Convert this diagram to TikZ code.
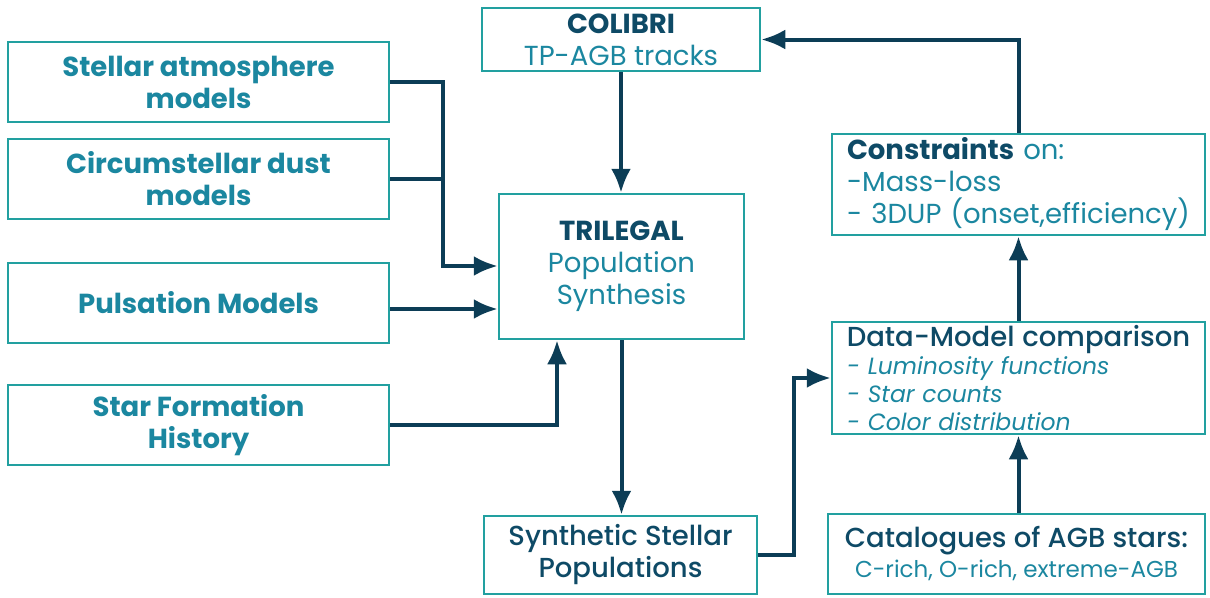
\documentclass[tikz,border=0pt]{standalone}
\usepackage{fontspec}
\setmainfont{Poppins}
\newfontfamily\medfont{Poppins Medium}
\usetikzlibrary{positioning,calc,arrows.meta}
\definecolor{boxteal}{HTML}{22A0A0}
\definecolor{textteal}{HTML}{1B87A0}
\definecolor{navy}{HTML}{0E4A66}
\definecolor{arrowblue}{HTML}{0C3D56}
\tikzset{
  box/.style={draw=boxteal, line width=2.5pt, fill=white, inner sep=0pt, align=center,
    font=\fontsize{27.5}{32}\selectfont},
  inbox/.style={box, minimum width=381pt, minimum height=80pt, text=textteal,
    font=\fontsize{27.5}{32}\selectfont\bfseries},
  listbox/.style={box, align=left, text width=343pt, inner xsep=15pt},
  flow/.style={draw=arrowblue, line width=4pt, -{Latex[length=24pt,width=20pt]}},
  link/.style={draw=arrowblue, line width=4pt},
}
\begin{document}
\begin{tikzpicture}[x=1pt,y=-1pt]
    \useasboundingbox (0,0) rectangle (1210,597);
    % inputs on the left
    \node[inbox] (atm)  at (198.5,82)  {Stellar atmosphere\\models};
    \node[inbox] (dust) at (198.5,179) {Circumstellar dust\\models};
    \node[inbox] (puls) at (198.5,303) {Pulsation Models};
    \node[inbox] (sfh)  at (198.5,425) {Star Formation\\History};
    % centre column
    \node[box, minimum width=278pt, minimum height=63pt] (colibri) at (621,39.5)
        {\textcolor{navy}{\bfseries COLIBRI}\\\textcolor{textteal}{TP-AGB tracks}};
    \node[box, minimum width=245pt, minimum height=145pt] (trilegal) at (621.5,266.5)
        {\textcolor{navy}{\bfseries TRILEGAL}\\\textcolor{textteal}{Population}\\\textcolor{textteal}{Synthesis}};
    \node[box, minimum width=273pt, minimum height=78pt, text=navy, font=\fontsize{27.5}{32}\medfont] (synth) at (620.5,555)
        {Synthetic Stellar\\Populations};
    % right column
    \node[listbox, minimum height=101pt, text=textteal] (constr) at (1018.5,184.5)
        {\textcolor{navy}{\bfseries Constraints} on:\\-Mass-loss\\- 3DUP (onset,efficiency)};
    \node[listbox, minimum height=112pt, text=textteal, font=\fontsize{23.5}{28}\selectfont] (comp) at (1018.5,378)
        {\makebox[343pt]{\textcolor{navy}{\fontsize{27.5}{32}\medfont Data-Model comparison}}\\
         \itshape - Luminosity functions\\- Star counts\\- Color distribution};
    \node[box, minimum width=377pt, minimum height=80pt, font=\fontsize{23}{30}\selectfont] (cat) at (1016.5,554)
        {\textcolor{navy}{\fontsize{27.5}{32}\medfont Catalogues of AGB stars:}\\
         \textcolor{textteal}{C-rich, O-rich, extreme-AGB}};
    % connectors
    \coordinate (join) at (443,266);
    \coordinate (sfhup) at (557,425);
    \coordinate (bend) at (794,466);
    \draw[flow] (atm.east) -| (join) -- (join -| trilegal.west);
    \draw[link] (dust.east) -- (dust.east -| join);
    \draw[flow] ([yshift=-6pt]puls.east) -- ([yshift=-6pt]puls.east -| trilegal.west);
    \draw[flow] (sfh.east) -- (sfhup) -- (sfhup |- trilegal.south);
    \draw[flow] (colibri.south) -- (colibri.south |- trilegal.north);
    \draw[flow] (trilegal.south) -- (trilegal.south |- synth.north);
    \draw[flow] (synth.east) -| (bend) |- (comp.west);
    \draw[flow] (cat.north -| comp.south) -- (comp.south);
    \draw[flow] (comp.north) -- (constr.south);
    \draw[flow] (constr.north) |- (colibri.east);
\end{tikzpicture}
\end{document}
